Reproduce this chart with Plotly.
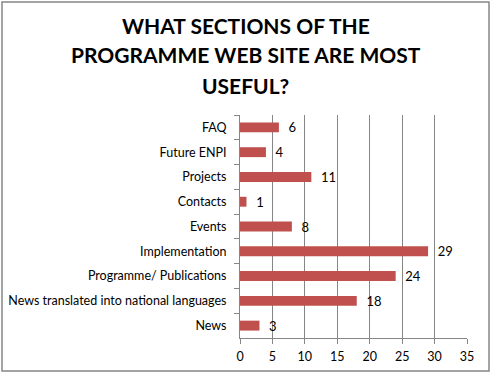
import plotly.graph_objects as go

categories = ["FAQ", "Future ENPI", "Projects", "Contacts", "Events",
              "Implementation", "Programme/ Publications",
              "News translated into national languages", "News"]
values = [6, 4, 11, 1, 8, 29, 24, 18, 3]
x_ticks = [0, 5, 10, 15, 20, 25, 30, 35]
title_lines = ["WHAT SECTIONS OF THE", "PROGRAMME WEB SITE ARE MOST", "USEFUL?"]

W, H = 491, 374
l, r, t, b = 240, 24, 115, 36
pw, ph = W - l - r, H - t - b

fig = go.Figure(go.Bar(
    x=values, y=categories, orientation="h",
    marker=dict(color="#C0504D", line=dict(width=0)),
    width=0.4,
    text=["  " + str(v) for v in values], textposition="outside",
    textfont=dict(family="Lato", size=13, color="#000000"),
    constraintext="none",
    cliponaxis=False,
    hoverinfo="skip",
))

title_centers = [26, 55, 85]
annotations = [dict(text="<b>" + s + "</b>", xref="paper", yref="paper",
                    x=(245.5 - l) / pw, y=(H - b - yc) / ph,
                    xanchor="center", yanchor="middle", showarrow=False,
                    font=dict(family="Lato", size=21, color="#000000"))
               for s, yc in zip(title_lines, title_centers)]

fig.update_layout(
    width=W, height=H,
    margin=dict(l=l, r=r, t=t, b=b, autoexpand=False),
    paper_bgcolor="white", plot_bgcolor="white",
    showlegend=False,
    font=dict(family="Lato", size=13, color="#000000"),
    xaxis=dict(range=[0, 35], tickvals=x_ticks, showgrid=True, gridcolor="#868686",
               gridwidth=1, zeroline=False, showline=True, linecolor="#868686",
               ticks="outside", ticklen=5, tickcolor="#868686", automargin=False,
               tickfont=dict(family="Lato", size=12.5), fixedrange=True,
               ticklabelstandoff=2),
    yaxis=dict(autorange="reversed", showline=True, linecolor="#868686",
               ticks="outside", ticklen=5, tickcolor="#868686", tickson="boundaries",
               showgrid=False, tickfont=dict(family="Lato", size=12.5),
               automargin=False, ticklabelstandoff=10, fixedrange=True),
    bargap=0.6,
    annotations=annotations,
    shapes=[dict(type="rect", xref="paper", yref="paper",
                 x0=(2 - l) / pw, x1=(489 - l) / pw,
                 y0=(H - b - 371) / ph, y1=(H - b - 2) / ph,
                 line=dict(color="#868686", width=1.5), fillcolor="rgba(0,0,0,0)")],
)

fig.write_html("out.html", config={"displayModeBar": False},
               post_script="document.body.style.margin='0px';")
